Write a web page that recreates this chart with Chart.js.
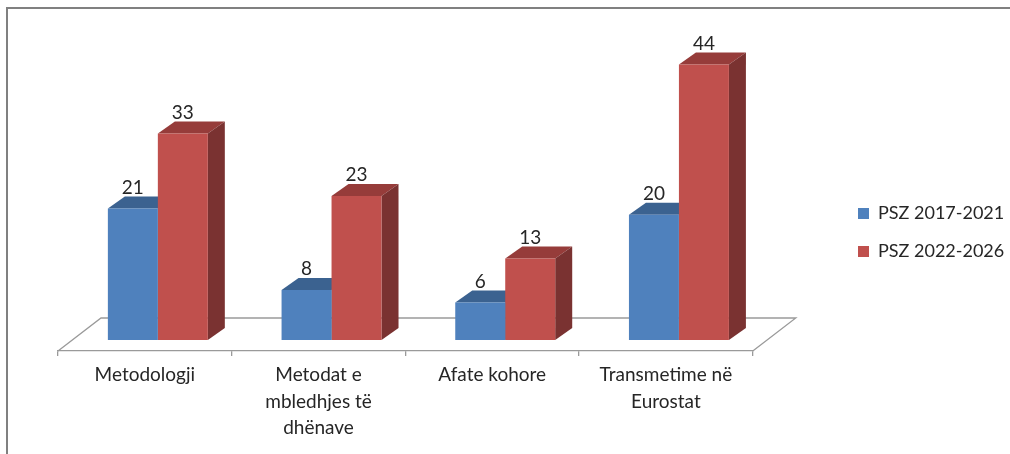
<!DOCTYPE html>
<html><head><meta charset="utf-8">
<style>html,body{margin:0;padding:0;background:#fff}canvas{display:block}</style>
<script src="https://cdn.jsdelivr.net/npm/chart.js@4"></script>
</head><body>
<div style="width:1010px;height:454px"><canvas id="c" width="1010" height="454"></canvas></div>
<script>
const categories = [["Metodologji"],["Metodat e","mbledhjes të","dhënave"],["Afate kohore"],["Transmetime në","Eurostat"]];
const seriesNames = ["PSZ 2017-2021","PSZ 2022-2026"];
const series1 = [21,8,6,20];
const series2 = [33,23,13,44];

const FONT = "Lato";
const colors = [
  {front:"#4F81BD", top:"#3B6290", side:"#325379"},
  {front:"#C0504D", top:"#963C3A", side:"#7A3231"}
];
const DEPTH = {x:17, y:-12};       // bar depth
const SHIFT = {x:13, y:-11};       // bars stand in the middle of the floor
const FLOOR = {x:43, y:-33};       // floor depth

function poly(ctx, pts, fill){
  ctx.beginPath(); pts.forEach((p,i)=>i?ctx.lineTo(p[0],p[1]):ctx.moveTo(p[0],p[1]));
  ctx.closePath(); ctx.fillStyle=fill; ctx.fill();
}
const threeD = {
  id:"threeD",
  afterLayout(chart){
    const l = chart.legend;
    const w = l.right-l.left, h = l.bottom-l.top;
    l.left = 838; l.right = l.left+w;
    l.top = 232.5-h/2; l.bottom = l.top+h;
  },
  beforeDraw(chart){
    const {ctx} = chart;
    ctx.save();
    ctx.strokeStyle="#808080"; ctx.lineWidth=2;
    ctx.beginPath(); ctx.moveTo(7,454); ctx.lineTo(7,8); ctx.lineTo(1010,8); ctx.stroke();
    ctx.restore();
  },
  beforeDatasetsDraw(chart){
    const {ctx, chartArea:a} = chart;
    ctx.save();
    ctx.strokeStyle="#9A9A9A"; ctx.lineWidth=1.3;
    ctx.beginPath();
    ctx.moveTo(a.left,a.bottom); ctx.lineTo(a.left+FLOOR.x,a.bottom+FLOOR.y);
    ctx.lineTo(a.right+FLOOR.x,a.bottom+FLOOR.y); ctx.lineTo(a.right,a.bottom);
    ctx.stroke();
    ctx.restore();
    ctx.save();
    ctx.translate(SHIFT.x,SHIFT.y);
    chart.data.datasets.forEach((ds,di)=>{
      chart.getDatasetMeta(di).data.forEach(b=>{
        const L=b.x-b.width/2, R=b.x+b.width/2, T=b.y, B=b.base;
        poly(ctx,[[L,T],[L+DEPTH.x,T+DEPTH.y],[R+DEPTH.x,T+DEPTH.y],[R,T]],colors[di].top);
        poly(ctx,[[R,T],[R+DEPTH.x,T+DEPTH.y],[R+DEPTH.x,B+DEPTH.y],[R,B]],colors[di].side);
      });
    });
    // front faces are drawn by the library under the same shift
  },
  afterDatasetsDraw(chart){
    const {ctx} = chart;
    ctx.fillStyle="#262626"; ctx.font="19px "+FONT;
    ctx.textAlign="center"; ctx.textBaseline="middle";
    chart.data.datasets.forEach((ds,di)=>{
      chart.getDatasetMeta(di).data.forEach((b,i)=>{
        ctx.fillText(String(ds.data[i]), b.x, b.y-21);
      });
    });
    ctx.restore();
  }
};
new Chart(document.getElementById("c"),{
  type:"bar",
  data:{labels:categories,datasets:[
    {label:seriesNames[0],data:series1,backgroundColor:colors[0].front,borderWidth:0},
    {label:seriesNames[1],data:series2,backgroundColor:colors[1].front,borderWidth:0}
  ]},
  plugins:[threeD],
  options:{
    responsive:false,animation:false,events:[],
    layout:{padding:{left:58,top:38,right:81,bottom:0}},
    datasets:{bar:{barPercentage:1,categoryPercentage:0.5755}},
    plugins:{
      tooltip:{enabled:false},
      legend:{position:"right",labels:{boxWidth:11,boxHeight:11,padding:20,color:"#262626",font:{family:FONT,size:18}}}
    },
    scales:{
      x:{
        afterFit(s){s.height=103;},
        grid:{drawOnChartArea:false,drawTicks:true,tickLength:5,color:"#9A9A9A",lineWidth:1.3},
        border:{display:true,color:"#9A9A9A",width:1.3},
        ticks:{autoSkip:false,maxRotation:0,minRotation:0,padding:6,color:"#262626",font:{family:FONT,size:19,lineHeight:1.39}}
      },
      y:{display:false,min:0,max:50}
    }
  }
});
</script></body></html>
